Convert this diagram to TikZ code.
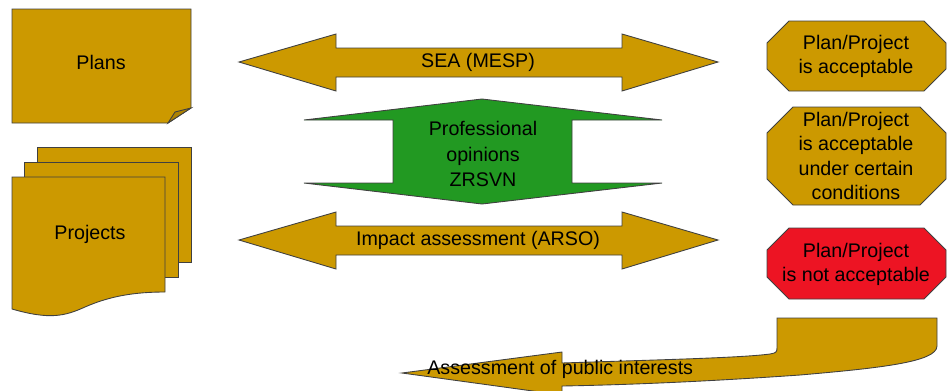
\documentclass[tikz,border=0pt]{standalone}
\usepackage{fontspec}
\setmainfont{Liberation Sans}
\definecolor{gold}{RGB}{204,153,0}
\definecolor{grn}{RGB}{34,153,34}
\definecolor{rd}{RGB}{237,20,35}
\begin{document}
\begin{tikzpicture}[x=0.02cm,y=-0.02cm,
  shp/.style={draw=black!75,line width=0.5pt,line join=miter},
  txt/.style={align=center,inner sep=0pt,font=\fontsize{11.2}{13.6}\selectfont}]
\useasboundingbox (0,0) rectangle (950,390);
% Plans
\path[shp,fill=gold] (12,9) -- (191,9) -- (191,108) -- (168,123) -- (12,123) -- cycle;
\path[shp,fill=gold!85!black] (191,108) -- (175,112) -- (168,123) -- cycle;
\node[txt] (plans) at (101,62) {Plans};
% Projects
\path[shp,fill=gold] (37,147) rectangle (191,262);
\path[shp,fill=gold] (24,162) rectangle (178,277);
\path[shp,fill=gold] (12,177) -- (165,177) -- (165,292)
  .. controls (135,292) and (110,296) .. (85,307)
  .. controls (65,316) and (50,320) .. (12,309) -- cycle;
\node[txt] (projects) at (90,234) {Projects};
% SEA arrow
\path[shp,fill=gold] (239,62) -- (336,34) -- (336,48) -- (622,48) -- (622,34) -- (718,62)
  -- (622,91) -- (622,77) -- (336,77) -- (336,91) -- cycle;
\node[txt] (sea) at (478,62) {SEA (MESP)};
% Impact arrow
\path[shp,fill=gold] (239,240) -- (336,212) -- (336,226) -- (622,226) -- (622,212) -- (718,240)
  -- (622,269) -- (622,255) -- (336,255) -- (336,269) -- cycle;
\node[txt] (ia) at (478,240) {Impact assessment (ARSO)};
% Green shape
\path[shp,fill=grn] (304,120) -- (393,120) -- (393,183) -- (304,183) -- (482,204) -- (662,183)
  -- (572,183) -- (572,120) -- (662,120) -- (482,99) -- cycle;
\node[txt,font=\fontsize{11.2}{14.6}\selectfont] (po) at (483,154) {Professional\\opinions\\ZRSVN};
% Octagons
\path[shp,fill=gold] (789,21) -- (924,21) -- (946,43) -- (946,69) -- (924,91) -- (789,91) -- (767,69) -- (767,43) -- cycle;
\node[txt] (acc) at (856,56) {Plan/Project\\is acceptable};
\path[shp,fill=gold] (793,107) -- (920,107) -- (946,133) -- (946,179) -- (920,205) -- (793,205) -- (767,179) -- (767,133) -- cycle;
\node[txt,font=\fontsize{11.2}{13.9}\selectfont] (cond) at (856,156) {Plan/Project\\is acceptable\\under certain\\conditions};
\path[shp,fill=rd] (789,228) -- (924,228) -- (946,250) -- (946,277) -- (924,299) -- (789,299) -- (767,277) -- (767,250) -- cycle;
\node[txt] (nacc) at (856,264) {Plan/Project\\is not acceptable};
% Bottom curved arrow
\path[shp,fill=gold] (402,373) -- (562,352) -- (562,363)
  .. controls (650,360) and (740,358) .. (770,354)
  .. controls (776,353) and (777,352) .. (777,348)
  -- (777,318) -- (937,318) -- (937,346)
  .. controls (937,362) and (880,368) .. (800,375)
  .. controls (700,382) and (620,385) .. (562,386)
  -- (562,395) -- cycle;
\node[txt,anchor=west] (api) at (427,369) {Assessment of public interests};
\end{tikzpicture}
\end{document}
